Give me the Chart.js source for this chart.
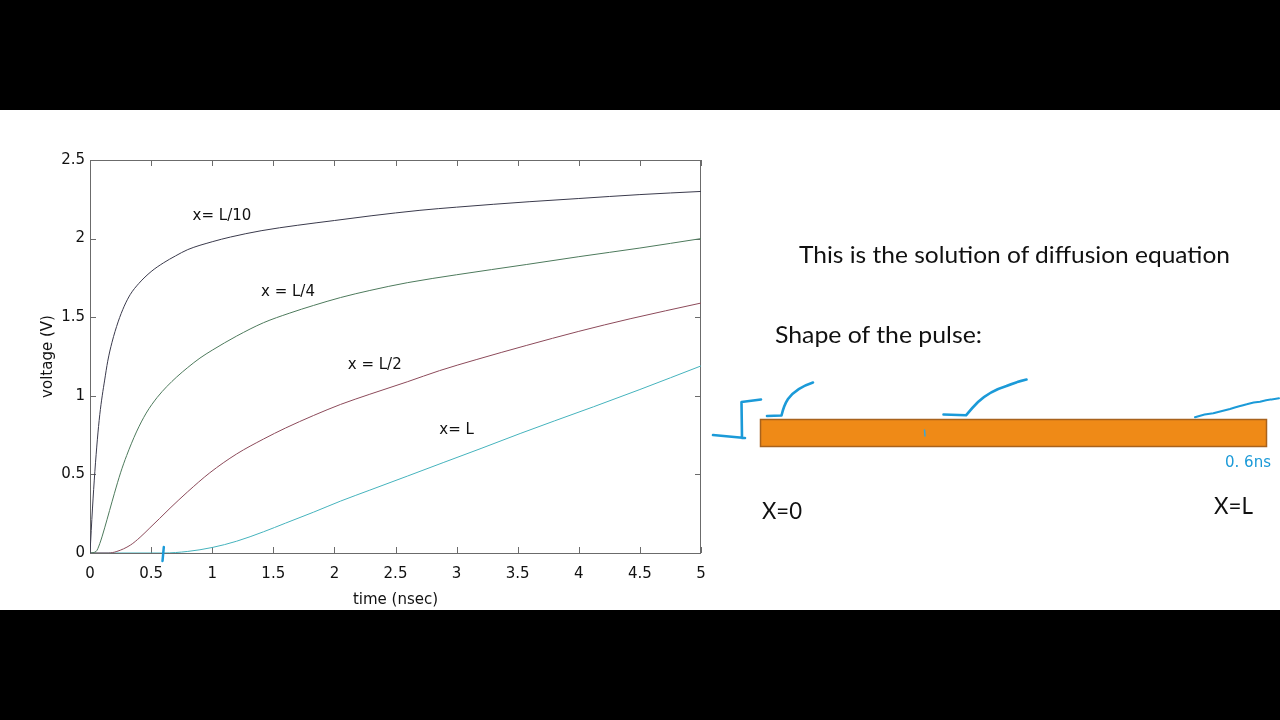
<!DOCTYPE html>
<html>
<head>
<meta charset="utf-8">
<script src="https://cdn.jsdelivr.net/npm/chart.js@4.4.1/dist/chart.umd.min.js"></script>
<style>
  html, body { margin: 0; padding: 0; background: #000; }
  #page { position: relative; width: 1280px; height: 720px; overflow: hidden; background: #000; }
  #band { position: absolute; left: 0; top: 110px; width: 1280px; height: 500px; background: #fff; }
  #pulseChart { position: absolute; left: 0; top: 110px; }
  #sketch { position: absolute; left: 0; top: 0; }
</style>
</head>
<body>
<div id="page">
  <div id="band"></div>
  <canvas id="pulseChart" width="720" height="500"></canvas>
  <svg id="sketch" width="1280" height="720" xmlns="http://www.w3.org/2000/svg">
    <g font-family="Lato, 'Noto Sans', sans-serif" font-size="23" fill="#111">
      <text x="799" y="263" textLength="431" lengthAdjust="spacingAndGlyphs">This is the solution of diffusion equation</text>
      <text x="775" y="343" textLength="207" lengthAdjust="spacingAndGlyphs">Shape of the pulse:</text>
      <text x="762" y="519" textLength="40" lengthAdjust="spacingAndGlyphs">X=0</text>
      <text x="1214" y="514" textLength="39" lengthAdjust="spacingAndGlyphs">X=L</text>
    </g>
    <rect x="760.5" y="419.5" width="506" height="27" fill="#ef8a17" stroke="#a8621c" stroke-width="1.5"/>
    <g fill="none" stroke="#1b9ad8" stroke-width="2.6" stroke-linecap="round" stroke-linejoin="round">
      <path d="M713 435 L745 438 M742 438 L741.5 402 L761 399.5"/>
      <path d="M767 416 L781.5 415.5 Q784 405 788 399 Q796 388 813 382.5"/>
      <path d="M943.5 414.5 L966 415.3 Q972 408 978 402 Q990 391 1006.5 386 Q1016 382 1026.5 379.5"/>
      <path d="M1195 417.3 Q1205 414 1213.3 413.3 Q1222 411 1230 409 Q1240 406 1246.7 404.3 Q1254 402 1260 401.7 Q1270 399.5 1279 398.3" stroke-width="2"/>
      <path d="M924.5 430 L925 436" stroke="#3aa6d6" stroke-width="1.5"/>
    </g>
    <text x="1225" y="467" font-family="'DejaVu Sans', sans-serif" font-size="15" fill="#1b9ad8" textLength="46" lengthAdjust="spacingAndGlyphs">0. 6ns</text>
  </svg>
</div>
<script>
// time (nsec) vs voltage (V) for four positions along the line
const tL10 = [0, 0.02, 0.04, 0.06, 0.08, 0.1, 0.12, 0.145, 0.18, 0.23, 0.28, 0.33, 0.4, 0.5, 0.6, 0.7, 0.8, 1.0, 1.15, 1.4, 1.7, 2.0, 2.3, 2.7, 3.0, 3.6, 4.0, 4.5, 5.0];
const vL10 = [0, 0.28, 0.52, 0.72, 0.88, 1.0, 1.1, 1.22, 1.34, 1.47, 1.57, 1.645, 1.715, 1.79, 1.845, 1.89, 1.93, 1.98, 2.01, 2.05, 2.085, 2.115, 2.145, 2.18, 2.20, 2.235, 2.255, 2.28, 2.30];

const tL4 = [0, 0.05, 0.08, 0.12, 0.16, 0.2, 0.25, 0.3, 0.38, 0.46, 0.55, 0.63, 0.71, 0.8, 0.9, 1.0, 1.2, 1.42, 1.63, 1.83, 2.05, 2.29, 2.6, 3.0, 3.57, 4.0, 4.5, 5.0];
const vL4 = [0, 0.01, 0.06, 0.16, 0.27, 0.38, 0.51, 0.62, 0.77, 0.89, 0.99, 1.06, 1.12, 1.18, 1.24, 1.29, 1.38, 1.465, 1.525, 1.575, 1.625, 1.67, 1.72, 1.77, 1.835, 1.885, 1.94, 2.0];

const tL2 = [0, 0.15, 0.22, 0.33, 0.41, 0.49, 0.57, 0.655, 0.8, 0.98, 1.2, 1.42, 1.6, 1.83, 2.05, 2.29, 2.6, 2.86, 3.16, 3.57, 4.0, 4.42, 5.0];
const vL2 = [0, 0, 0.01, 0.05, 0.1, 0.16, 0.22, 0.285, 0.39, 0.51, 0.63, 0.725, 0.795, 0.875, 0.945, 1.01, 1.09, 1.16, 1.23, 1.32, 1.41, 1.49, 1.59];

const tL = [0, 0.6, 0.8, 1.0, 1.2, 1.42, 1.6, 1.83, 2.05, 2.29, 2.6, 2.89, 3.2, 3.52, 3.8, 4.12, 4.5, 5.0];
const vL = [0, 0, 0.01, 0.035, 0.075, 0.135, 0.19, 0.26, 0.33, 0.40, 0.49, 0.575, 0.665, 0.76, 0.84, 0.93, 1.04, 1.19];

const xTicks = [0, 0.5, 1, 1.5, 2, 2.5, 3, 3.5, 4, 4.5, 5];
const yTicks = [0, 0.5, 1, 1.5, 2, 2.5];

// curve labels placed in data coordinates
const curveLabels = [
  { text: 'x= L/10', x: 1.08, y: 2.14 },
  { text: 'x = L/4', x: 1.62, y: 1.66 },
  { text: 'x = L/2', x: 2.33, y: 1.196 },
  { text: 'x= L', x: 3.0, y: 0.78 }
];

const pts = (t, v) => t.map((x, i) => ({ x: x, y: v[i] }));

const FONT = "'DejaVu Sans', sans-serif";
const AXIS = '#6b6b6b';

// matlab style box with ticks pointing inwards
const boxPlugin = {
  id: 'box',
  beforeDatasetsDraw(chart) {
    const { ctx, chartArea: a, scales: { x, y } } = chart;
    ctx.save();
    ctx.strokeStyle = AXIS;
    ctx.lineWidth = 1;
    ctx.strokeRect(a.left + 0.5, a.top + 0.5, a.right - a.left - 1, a.bottom - a.top);
    ctx.beginPath();
    xTicks.forEach(v => {
      const px = Math.round(x.getPixelForValue(v)) + 0.5;
      ctx.moveTo(px, a.bottom); ctx.lineTo(px, a.bottom - 6);
      ctx.moveTo(px, a.top); ctx.lineTo(px, a.top + 6);
    });
    yTicks.forEach(v => {
      const py = Math.round(y.getPixelForValue(v)) + 0.5;
      ctx.moveTo(a.left, py); ctx.lineTo(a.left + 6, py);
      ctx.moveTo(a.right, py); ctx.lineTo(a.right - 6, py);
    });
    ctx.stroke();
    ctx.restore();
  },
  afterDraw(chart) {
    const { ctx, scales: { x, y } } = chart;
    ctx.save();
    ctx.fillStyle = '#111';
    ctx.font = '15px ' + FONT;
    ctx.textAlign = 'center';
    ctx.textBaseline = 'middle';
    curveLabels.forEach(l => ctx.fillText(l.text, x.getPixelForValue(l.x), y.getPixelForValue(l.y)));
    // hand drawn blue mark at 0.6 ns
    const mx = x.getPixelForValue(0.6);
    const my = y.getPixelForValue(0);
    ctx.strokeStyle = '#1b9ad8';
    ctx.lineWidth = 2.5;
    ctx.lineCap = 'round';
    ctx.beginPath();
    ctx.moveTo(mx + 0.5, my - 6);
    ctx.lineTo(mx - 0.8, my + 8);
    ctx.stroke();
    ctx.restore();
  }
};

const lineSet = (data, color) => ({
  data: data,
  borderColor: color,
  borderWidth: 1,
  pointRadius: 0,
  fill: false,
  cubicInterpolationMode: 'monotone'
});

const plain = v => String(v);

new Chart(document.getElementById('pulseChart'), {
  type: 'line',
  data: {
    datasets: [
      lineSet(pts(tL10, vL10), '#3a3a4c'),
      lineSet(pts(tL4, vL4), '#4d7a5c'),
      lineSet(pts(tL2, vL2), '#8c4a5a'),
      lineSet(pts(tL, vL), '#45b3bd')
    ]
  },
  options: {
    responsive: false,
    maintainAspectRatio: false,
    animation: false,
    layout: { padding: { left: 0, top: 50, right: 19, bottom: 0 } },
    plugins: {
      legend: { display: false },
      tooltip: { enabled: false }
    },
    scales: {
      x: {
        type: 'linear',
        min: 0,
        max: 5,
        afterFit(scale) { scale.height = 57; scale.paddingLeft = 0; scale.paddingRight = 0; },
        afterBuildTicks(scale) { scale.ticks = xTicks.map(v => ({ value: v })); },
        grid: { display: false, drawTicks: false },
        border: { display: false },
        ticks: { color: '#111', font: { family: FONT, size: 15 }, padding: 12, maxRotation: 0, autoSkip: false, callback: plain },
        title: { display: true, text: 'time (nsec)', color: '#111', font: { family: FONT, size: 15 }, padding: { top: 0, bottom: 1 } }
      },
      y: {
        min: 0,
        max: 2.5,
        afterFit(scale) { scale.width = 90; scale.paddingTop = 0; scale.paddingBottom = 0; },
        afterBuildTicks(scale) { scale.ticks = yTicks.map(v => ({ value: v })); },
        grid: { display: false, drawTicks: false },
        border: { display: false },
        ticks: { color: '#111', font: { family: FONT, size: 15 }, padding: 5, callback: plain },
        title: { display: true, text: 'voltage (V)', color: '#111', font: { family: FONT, size: 15 }, padding: { top: 39, bottom: 0 } }
      }
    }
  },
  plugins: [boxPlugin]
});
</script>
</body>
</html>
